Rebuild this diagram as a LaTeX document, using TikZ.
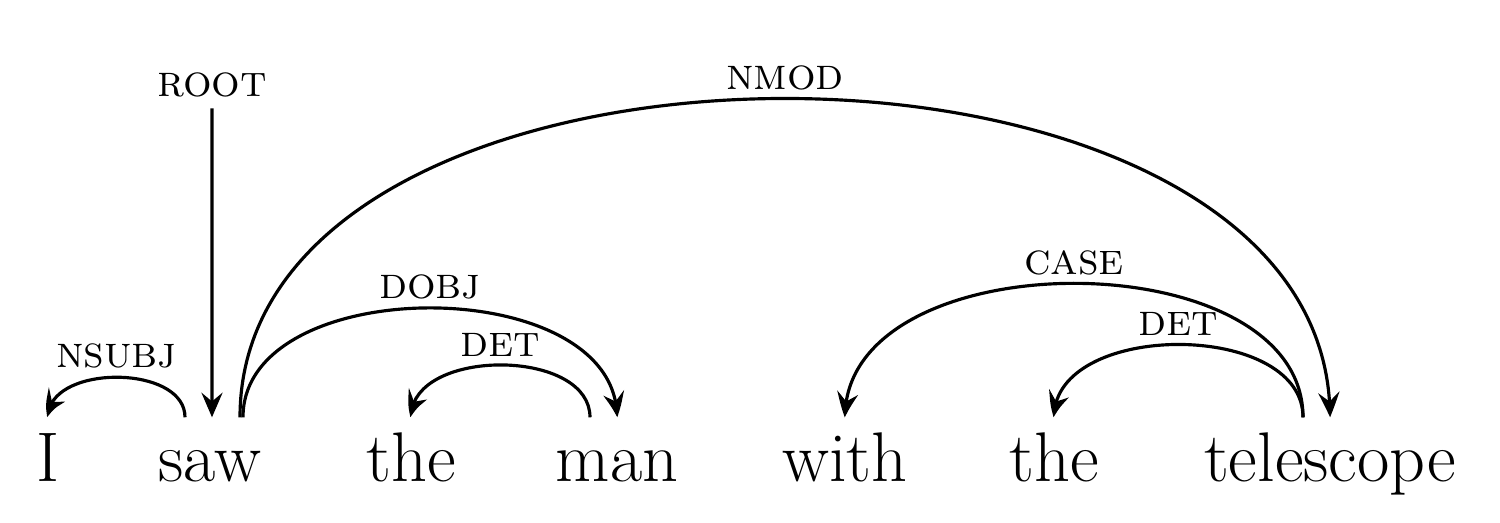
\documentclass[tikz,border=0pt]{standalone}
\usepackage{tikz}
\usetikzlibrary{arrows.meta, bending, positioning, calc}
\usepackage{xcolor}
\definecolor{dpInk}{HTML}{000000}
\tikzset{
  dpword/.style={anchor=base, inner sep=0pt, text=dpInk,
    text height=0.64cm, text depth=0.1cm,
    font=\fontsize{20}{24}\selectfont},
  dplabel/.style={font=\fontsize{12.8}{15}\selectfont\scshape, text=dpInk,
    inner sep=2pt},
  dparc/.style={-{Stealth[length=7pt, width=6pt, inset=2.5pt, bend]},
    line width=0.9pt, draw=dpInk},
}

\begin{document}
\begin{tikzpicture}
  \useasboundingbox (0,0) rectangle (15,5.23);

  % --- Sentence ----------------------------------------------------------
  \node[dpword] (wI)    at (0.48,0.41)  {I};
  \node[dpword] (wsaw)  at (2.10,0.41)  {saw};
  \node[dpword] (wthe)  at (4.11,0.41)  {the};
  \node[dpword] (wman)  at (6.17,0.41)  {man};
  \node[dpword] (wwith) at (8.45,0.41)  {with};
  \node[dpword] (wthe2) at (10.54,0.41) {the};
  \node[dpword] (wtel)  at (13.30,0.41) {telescope};

  % root label
  \node[dplabel] (root) at (2.12,4.38) {root};

  % --- Dependency arcs ---------------------------------------------------
  \draw[dparc] ([yshift=-1pt]root.south) -- ([xshift=0.02cm]wsaw.north);
  \draw[dparc] ([xshift=-0.25cm]wsaw.north) to[out=90,in=90]
        node[midway, above, dplabel]{nsubj} (wI.north);
  \draw[dparc] ([xshift=0.33cm]wsaw.north) to[out=90,in=90]
        node[midway, above, dplabel]{dobj} (wman.north);
  \draw[dparc] ([xshift=-0.27cm]wman.north) to[out=90,in=90]
        node[midway, above, dplabel]{det} (wthe.north);
  \draw[dparc] ([xshift=0.30cm]wsaw.north) to[out=90,in=90]
        node[midway, above, dplabel]{nmod} (wtel.north);   % long arc over all
  \draw[dparc] ([xshift=-0.27cm]wtel.north) to[out=90,in=90]
        node[midway, above, dplabel]{case} (wwith.north);
  \draw[dparc] ([xshift=-0.27cm]wtel.north) to[out=90,in=90]
        node[midway, above, dplabel]{det} (wthe2.north);

\end{tikzpicture}
\end{document}
